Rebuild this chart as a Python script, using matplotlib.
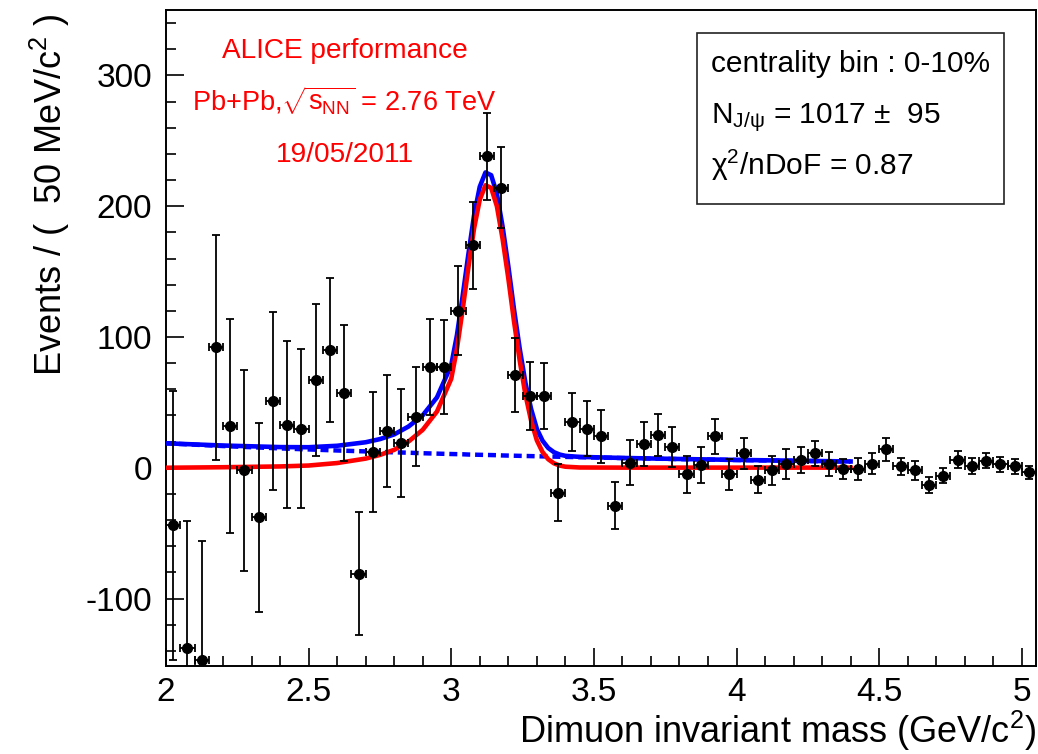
import matplotlib
matplotlib.use('Agg')
import matplotlib.pyplot as plt
from matplotlib.ticker import MultipleLocator
from matplotlib.patches import Rectangle

plt.rcParams['font.family'] = 'Liberation Sans'
plt.rcParams['mathtext.fontset'] = 'custom'
plt.rcParams['mathtext.rm'] = 'Liberation Sans'
plt.rcParams['mathtext.it'] = 'Liberation Sans:italic'
plt.rcParams['mathtext.bf'] = 'Liberation Sans:bold'
plt.rcParams['axes.unicode_minus'] = False

# data points: bin centres (50 MeV bins), counts and errors
mass = [2.025, 2.075, 2.125, 2.175, 2.225, 2.275, 2.325, 2.375, 2.425, 2.475,
        2.525, 2.575, 2.625, 2.675, 2.725, 2.775, 2.825, 2.875, 2.925, 2.975,
        3.025, 3.075, 3.125, 3.175, 3.225, 3.275, 3.325, 3.375, 3.425, 3.475,
        3.525, 3.575, 3.625, 3.675, 3.725, 3.775, 3.825, 3.875, 3.925, 3.975,
        4.025, 4.075, 4.125, 4.175, 4.225, 4.275, 4.325, 4.375, 4.425, 4.475,
        4.525, 4.575, 4.625, 4.675, 4.725, 4.775, 4.825, 4.875, 4.925, 4.975,
        5.025]
counts = [-44, -138, -147, 92, 32, -2, -38, 51, 33, 30,
          67, 90, 57, -81, 12, 28, 19, 39, 77, 77,
          120, 170, 238, 214, 71, 55, 55, -19, 35, 30,
          24, -29, 4, 18, 25, 16, -5, 2, 24, -5,
          11, -9, -2, 3, 6, 11, 3, -1, -1, 3,
          14, 1, -2, -13, -6, 6, 1.5, 5.5, 2.5, 1,
          -3.5]
errors = [103, 97, 91, 86, 82, 77, 72, 68, 64, 61,
          58, 55, 52, 47, 46, 43, 41, 38, 37, 36,
          34, 33, 33, 31, 28, 26, 25, 22, 22, 21,
          20, 18, 17, 17, 16, 15.5, 14, 13.5, 13.5, 12,
          12, 10.5, 11, 11.5, 10, 9.5, 9, 7.5, 8.5, 8,
          8.5, 6.5, 7, 6, 6, 6.5, 6, 6, 6, 5.5,
          5]

# fit curves sampled from the plot: J/psi signal (red) and background (blue dotted)
fit_x = [2.00, 2.20, 2.40, 2.50, 2.60, 2.70, 2.75, 2.80, 2.85, 2.90,
         2.95, 3.00, 3.02, 3.04, 3.06, 3.08, 3.10, 3.12, 3.14, 3.16,
         3.18, 3.20, 3.22, 3.24, 3.26, 3.28, 3.30, 3.32, 3.34, 3.36,
         3.38, 3.40, 3.45, 3.60, 3.80, 4.00, 4.20, 4.40]
sig_y = [0.0, 0.4, 1.0, 1.7, 3.6, 7.0, 9.8, 13.7, 20, 29,
         43, 68, 91, 121, 153, 183, 205, 216, 214, 200,
         175, 145, 112, 82, 56, 36, 21, 12, 6.5, 3.4,
         1.7, 0.8, 0.2, 0.1, 0.1, 0.1, 0.1, 0.1]
bkg_y = [18.7, 16.6, 14.8, 14.0, 13.2, 12.5, 12.1, 11.8, 11.5, 11.1,
         10.8, 10.5, 10.4, 10.3, 10.1, 10.0, 9.9, 9.8, 9.7, 9.6,
         9.4, 9.3, 9.2, 9.1, 9.0, 8.9, 8.8, 8.7, 8.6, 8.5,
         8.4, 8.3, 8.1, 7.4, 6.6, 5.9, 5.3, 4.7]
total_y = [s + b for s, b in zip(sig_y, bkg_y)]

fig = plt.figure(figsize=(10.38, 7.54), dpi=100)
ax = fig.add_axes([0.1599, 0.1167, 0.8382, 0.870])

ax.plot(fit_x, bkg_y, color='#0000ff', lw=3.2, linestyle=(0, (1.8, 1.1)), zorder=2)
ax.plot(fit_x, total_y, color='#0000ff', lw=3.3, zorder=3)
ax.plot(fit_x, sig_y, color='#ff0000', lw=3.3, zorder=4)
ax.errorbar(mass, counts, yerr=errors, xerr=0.025, fmt='o', color='black',
            ms=7, elinewidth=1.3, capsize=3, capthick=1.3, zorder=5)

ax.set_xlim(2, 5.05)
ax.set_ylim(-151.6, 350)
ax.xaxis.set_minor_locator(MultipleLocator(0.1))
ax.yaxis.set_major_locator(MultipleLocator(100))
ax.yaxis.set_minor_locator(MultipleLocator(20))
ax.set_xticks([2, 2.5, 3, 3.5, 4, 4.5, 5])
ax.set_xticklabels(['2', '2.5', '3', '3.5', '4', '4.5', '5'])
ax.tick_params(which='both', direction='in', top=False, right=False, width=1.2)
ax.tick_params(which='major', length=13, labelsize=24)
ax.tick_params(which='minor', length=7)
ax.tick_params(axis='x', pad=8)
ax.tick_params(axis='y', pad=10)
for s in ax.spines.values():
    s.set_linewidth(1.4)

fig.text(0.9981, 0.0146, r'Dimuon invariant mass (GeV/c$^{2}$)', ha='right', va='baseline', fontsize=26)
fig.text(0.048, 0.982, r'Events / (  50 MeV/c$^{2}$ )', rotation=90, ha='center', va='top', fontsize=26)

# red labels
fig.text(0.3319, 0.9231, 'ALICE performance', color='#ff0000', ha='center', va='baseline', fontsize=20.2)
fig.text(0.3319, 0.8541, r'Pb+Pb,$\sqrt{\mathrm{s}_{\rm NN}}$ = 2.76 TeV', color='#ff0000', ha='center', va='baseline', fontsize=19.5)
fig.text(0.3319, 0.7851, '19/05/2011', color='#ff0000', ha='center', va='baseline', fontsize=20.2)

# fit results box
fig.add_artist(Rectangle((0.6715, 0.7294), 0.2958, 0.2268, transform=fig.transFigure,
                         facecolor='white', edgecolor='#222222', lw=1.2, zorder=6))
fig.text(0.685, 0.9049, 'centrality bin : 0-10%', ha='left', va='baseline', fontsize=21.5, zorder=7)
fig.text(0.685, 0.8369, r'N$_{\rm J/\psi}$ = 1017 $\pm$  95', ha='left', va='baseline', fontsize=21.5, zorder=7)
fig.text(0.685, 0.7679, r'$\mathrm{\chi}^{2}$/nDoF = 0.87', ha='left', va='baseline', fontsize=21.5, zorder=7)

fig.savefig('out.png', dpi=100)
